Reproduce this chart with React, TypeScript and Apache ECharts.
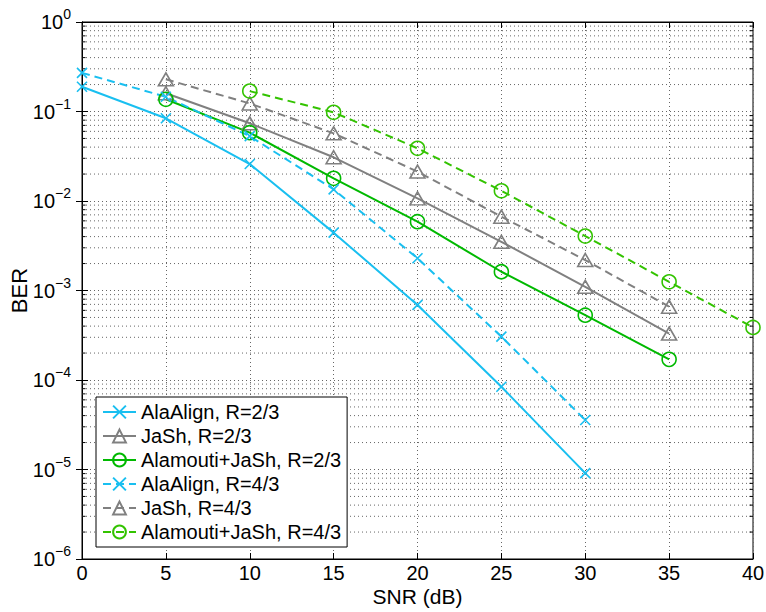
import React, { useEffect, useRef } from "react";
import * as echarts from "echarts";

const snrA = [0, 5, 10, 15, 20, 25, 30];
const snrB = [5, 10, 15, 20, 25, 30, 35];
const snrC = [10, 15, 20, 25, 30, 35, 40];

const alaAlign23 = [0.189, 0.084, 0.0259, 0.00443, 6.9e-4, 8.4e-5, 9.1e-6];
const jash23 = [0.16, 0.0738, 0.0308, 0.0107, 0.0035, 0.0011, 3.3e-4];
const alamouti23 = [0.137, 0.058, 0.0179, 0.00587, 0.00162, 5.3e-4, 1.7e-4];
const alaAlign43 = [0.27, 0.146, 0.053, 0.0135, 0.00229, 3.05e-4, 3.57e-5];
const jash43 = [0.229, 0.123, 0.057, 0.0213, 0.00668, 0.00219, 6.6e-4];
const alamouti43 = [0.169, 0.098, 0.0388, 0.013, 0.00406, 0.00125, 3.87e-4];

const seriesNames = [
  "AlaAlign, R=2/3",
  "JaSh, R=2/3",
  "Alamouti+JaSh, R=2/3",
  "AlaAlign, R=4/3",
  "JaSh, R=4/3",
  "Alamouti+JaSh, R=4/3",
];

const decades = [-6, -5, -4, -3, -2, -1];
const minorMultipliers = [2, 3, 4, 5, 6, 7, 8, 9];

const CYAN = "#19bff0";
const GRAY = "#808080";
const GREEN = "#00b900";
const GREEN2 = "#33c300";

const CROSS = "path://M0,0L10,10M10,0L0,10";
const TRI = "path://M5,0L10,9L0,9Z";
const FONT = "Liberation Sans, Arial, Helvetica, sans-serif";

function pairs(xs: number[], ys: number[]) {
  return xs.map((x, i) => [x, ys[i]]);
}

function mkSeries(
  name: string,
  xs: number[],
  ys: number[],
  color: string,
  symbol: string,
  symbolSize: number | number[],
  dashed: boolean
) {
  return {
    name,
    type: "line",
    data: pairs(xs, ys),
    symbol,
    symbolSize,
    showSymbol: true,
    z: 5,
    lineStyle: { color, width: 2, type: dashed ? [8, 5] : "solid" },
    itemStyle: { color: "rgba(0,0,0,0)", borderColor: color, borderWidth: 1.6 },
    emphasis: { disabled: true },
  };
}

export default function App() {
  const ref = useRef<HTMLDivElement>(null);
  useEffect(() => {
    if (!ref.current) return;
    const chart = echarts.init(ref.current, undefined, { renderer: "svg" });
    const minorVals: number[][] = [];
    decades.forEach((d) =>
      minorMultipliers.forEach((m) => minorVals.push([0, m * Math.pow(10, d)]))
    );
    const yLabel = (v: number) => {
      const e = Math.round(Math.log10(v));
      return `{b|10}{s|${e === 0 ? "0" : "\u2212" + -e}}`;
    };
    const option: any = {
      animation: false,
      grid: {
        left: 82,
        right: 13,
        top: 22,
        bottom: 53,
        show: true,
        borderColor: "#000",
        borderWidth: 1,
        backgroundColor: "#fff",
        containLabel: false,
        outerBoundsMode: "none",
      },
      legend: {
        data: seriesNames,
        orient: "vertical",
        left: 96,
        top: 397,
        padding: [5, 6, 5, 6],
        itemGap: 4,
        itemWidth: 33,
        itemHeight: 16,
        backgroundColor: "#fff",
        borderColor: "#000",
        borderWidth: 1,
        borderRadius: 0,
        textStyle: { fontFamily: FONT, fontSize: 20, color: "#000" },
        selectedMode: false,
      },
      xAxis: [
        {
          type: "value",
          min: 0,
          max: 40,
          interval: 5,
          name: "SNR (dB)",
          nameLocation: "middle",
          nameGap: 27,
          nameMoveOverlap: false,
          nameTextStyle: { fontFamily: FONT, fontSize: 21, color: "#000" },
          axisLine: { show: true, lineStyle: { color: "#000", width: 1 } },
          axisTick: { inside: true, length: 6, lineStyle: { color: "#000" } },
          axisLabel: { fontFamily: FONT, fontSize: 20, color: "#000", margin: 4 },
          splitLine: { show: true, lineStyle: { color: "#666", type: [1, 3], width: 1 } },
        },
        {
          type: "value",
          position: "top",
          min: 0,
          max: 40,
          interval: 5,
          axisLine: { show: true, lineStyle: { color: "#000", width: 1 } },
          axisTick: { inside: true, length: 6, lineStyle: { color: "#000" } },
          axisLabel: { show: false },
          splitLine: { show: false },
        },
      ],
      yAxis: [
        {
          type: "log",
          logBase: 10,
          min: 1e-6,
          max: 1,
          interval: 1,
          name: "BER",
          nameLocation: "middle",
          nameGap: 52,
          nameMoveOverlap: false,
          nameTextStyle: { fontFamily: FONT, fontSize: 22, color: "#000" },
          axisLine: { show: true, lineStyle: { color: "#000", width: 1 } },
          axisTick: { inside: true, length: 6, lineStyle: { color: "#000" } },
          axisLabel: {
            margin: 11,
            formatter: yLabel,
            rich: {
              b: { fontFamily: FONT, fontSize: 20, color: "#000", lineHeight: 30 },
              s: { fontFamily: FONT, fontSize: 14, color: "#000", verticalAlign: "top", lineHeight: 14 },
            },
          },
          splitLine: { show: true, lineStyle: { color: "#666", type: [1, 3], width: 1 } },
        },
        {
          type: "log",
          logBase: 10,
          position: "right",
          min: 1e-6,
          max: 1,
          interval: 1,
          axisLine: { show: true, lineStyle: { color: "#000", width: 1 } },
          axisTick: { inside: true, length: 6, lineStyle: { color: "#000" } },
          axisLabel: { show: false },
          splitLine: { show: false },
        },
      ],
      series: [
        {
          type: "custom",
          name: "minor",
          silent: true,
          z: 1,
          xAxisIndex: 0,
          yAxisIndex: 0,
          data: minorVals,
          renderItem: (params: any, api: any) => {
            const v = api.value(1);
            const p0 = api.coord([0, v]);
            const p1 = api.coord([40, v]);
            return {
              type: "group",
              children: [
                {
                  type: "line",
                  shape: { x1: p0[0], y1: p0[1], x2: p1[0], y2: p1[1] },
                  style: { stroke: "#666", lineWidth: 1, lineDash: [1, 3] },
                },
                {
                  type: "line",
                  shape: { x1: p0[0], y1: p0[1], x2: p0[0] + 3.5, y2: p0[1] },
                  style: { stroke: "#000", lineWidth: 1 },
                },
                {
                  type: "line",
                  shape: { x1: p1[0], y1: p1[1], x2: p1[0] - 3.5, y2: p1[1] },
                  style: { stroke: "#000", lineWidth: 1 },
                },
              ],
            };
          },
        },
        mkSeries(seriesNames[0], snrA, alaAlign23, CYAN, CROSS, 10, false),
        mkSeries(seriesNames[1], snrB, jash23, GRAY, TRI, [15, 13], false),
        mkSeries(seriesNames[2], snrB, alamouti23, GREEN, "circle", 14, false),
        mkSeries(seriesNames[3], snrA, alaAlign43, CYAN, CROSS, 10, true),
        mkSeries(seriesNames[4], snrB, jash43, GRAY, TRI, [15, 13], true),
        mkSeries(seriesNames[5], snrC, alamouti43, GREEN2, "circle", 14, true),
      ],
    };
    chart.setOption(option);
    return () => chart.dispose();
  }, []);
  return (
    <div
      ref={ref}
      style={{ position: "absolute", left: 0, top: 0, width: 766, height: 612 }}
    />
  );
}
